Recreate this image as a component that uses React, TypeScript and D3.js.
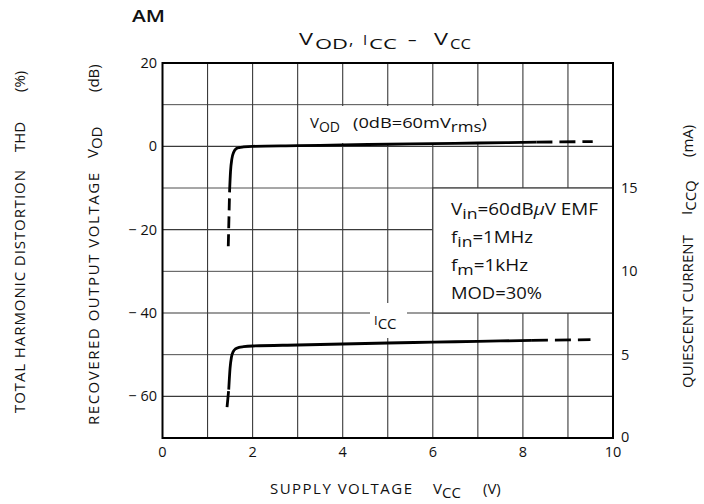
import React from 'react';
import * as d3 from 'd3';

// Axis ticks
const xTicks = [0, 2, 4, 6, 8, 10];
const yTicks = [20, 0, -20, -40, -60];
const yTickLabels = ['20', '0', '− 20', '− 40', '− 60'];
const yRightTicks = [0, 5, 10, 15];

// Recovered output voltage V_OD (dB) vs supply voltage (V)
const vodSolidX = [1.49, 1.51, 1.54, 1.58, 1.63, 1.7, 1.8, 2.0, 3.0, 4.0, 5.0, 6.0, 7.0, 8.3];
const vodSolidY = [-10.5, -6, -3, -1.4, -0.6, -0.3, -0.15, 0, 0.15, 0.35, 0.5, 0.65, 0.8, 1.0];
const vodLowX = [1.46, 1.49];
const vodLowY = [-24, -10.5];
const vodHighX = [8.3, 9.55];
const vodHighY = [1.0, 1.15];

// Quiescent current I_CC (mA) vs supply voltage (V)
const iccSolidX = [1.47, 1.5, 1.53, 1.57, 1.62, 1.7, 1.8, 2.0, 3.0, 4.0, 5.0, 6.0, 7.0, 8.2];
const iccSolidY = [2.9, 4.2, 4.85, 5.18, 5.35, 5.44, 5.48, 5.52, 5.58, 5.64, 5.7, 5.75, 5.8, 5.86];
const iccLowX = [1.42, 1.47];
const iccLowY = [1.5, 2.9];
const iccHighX = [8.2, 9.5];
const iccHighY = [5.86, 5.9];

const FONT = '"Open Sans", "Noto Sans", sans-serif';
const INK = '#111';
const GRID = '#3a3a3a';

const zip = (xs: number[], ys: number[]) => xs.map((v, i) => [v, ys[i]] as [number, number]);

export default function App() {
  const left = 162.5, right = 613, top = 63, bottom = 438;
  const x = d3.scaleLinear().domain([0, 10]).range([left, right]);
  const y = d3.scaleLinear().domain([-70, 20]).range([bottom, top]);
  const yR = d3.scaleLinear().domain([0, 22.5]).range([bottom, top]);

  const lineDb = d3.line<[number, number]>().x(d => x(d[0])).y(d => y(d[1])).curve(d3.curveMonotoneX);
  const lineMa = d3.line<[number, number]>().x(d => x(d[0])).y(d => yR(d[1])).curve(d3.curveMonotoneX);

  const vGrid = d3.range(1, 10);
  const hGrid = d3.range(-60, 20, 10);

  const curve = { fill: 'none', stroke: '#000', strokeWidth: 2.8, strokeLinecap: 'butt' as const };
  const fit = 'spacingAndGlyphs';

  return (
    <svg width={704} height={504} style={{ position: 'absolute', left: 0, top: 0, background: '#fff' }} fontFamily={FONT}>
      <rect width={704} height={504} fill="#fff" />

      {/* grid */}
      {vGrid.map(v => (
        <line key={'v' + v} x1={x(v)} x2={x(v)} y1={top} y2={bottom} stroke={GRID} strokeWidth={1.1} />
      ))}
      {hGrid.map(v => (
        <line key={'h' + v} x1={left} x2={right} y1={y(v)} y2={y(v)} stroke={GRID} strokeWidth={v % 20 === 0 ? 1.2 : 0.9} />
      ))}

      {/* condition box */}
      <rect x={x(6)} y={y(-10)} width={x(10) - x(6)} height={y(-40) - y(-10)} fill="#fff" stroke={GRID} strokeWidth={1.2} />
      <g fill={INK} fontSize={15.5}>
        <text x={451} y={215} textLength={147} lengthAdjust={fit}>V<tspan dy={4} fontSize={14.5}>in</tspan><tspan dy={-4}>=60dB</tspan><tspan fontStyle="italic">μ</tspan>V  EMF</text>
        <text x={451} y={243} textLength={82} lengthAdjust={fit}>f<tspan dy={4} fontSize={14.5}>in</tspan><tspan dy={-4}>=1MHz</tspan></text>
        <text x={451} y={271} textLength={77} lengthAdjust={fit}>f<tspan dy={4} fontSize={14.5}>m</tspan><tspan dy={-4}>=1kHz</tspan></text>
        <text x={451} y={299} textLength={91} lengthAdjust={fit}>MOD=30%</text>
      </g>

      {/* curve labels */}
      <rect x={300} y={106} width={217} height={37} fill="#fff" />
      <g fill={INK} fontSize={15}>
        <text x={310} y={128}>V<tspan dy={4} fontSize={14}>OD</tspan></text>
        <text x={353} y={128} textLength={134} lengthAdjust={fit}>(0dB=60mV<tspan dy={4} fontSize={14}>rms</tspan><tspan dy={-4}>)</tspan></text>
      </g>
      <rect x={370} y={303} width={37} height={35} fill="#fff" />
      <text x={374} y={325} fontSize={13} fill={INK}>I<tspan dy={4} fontSize={15}>CC</tspan></text>

      {/* frame */}
      <rect x={left} y={top} width={right - left} height={bottom - top} fill="none" stroke="#000" strokeWidth={2} />

      {/* curves */}
      <path d={lineDb(zip(vodSolidX, vodSolidY)) || ''} {...curve} />
      <path d={lineDb(zip(vodLowX, vodLowY)) || ''} {...curve} strokeDasharray="12 6" />
      <path d={lineDb(zip(vodHighX, vodHighY)) || ''} {...curve} strokeDasharray="16 7" />
      <path d={lineMa(zip(iccSolidX, iccSolidY)) || ''} {...curve} />
      <path d={lineMa(zip(iccLowX, iccLowY)) || ''} {...curve} strokeDasharray="0 6 16 20" />
      <path d={lineMa(zip(iccHighX, iccHighY)) || ''} {...curve} strokeDasharray="16 7" />

      {/* tick labels */}
      <g fill={INK} fontSize={14.5}>
        {yTicks.map((v, i) => (
          <text key={'yl' + v} x={157} y={y(v) + 5} textAnchor="end">{yTickLabels[i]}</text>
        ))}
        {yRightTicks.map(v => (
          <text key={'yr' + v} x={621} y={yR(v) + (v === 0 ? 4 : 5)}>{v}</text>
        ))}
        {xTicks.map(v => (
          <text key={'xl' + v} x={x(v)} y={457} textAnchor="middle">{v}</text>
        ))}
      </g>

      {/* titles */}
      <text x={132} y={22} fontSize={16} fill={INK} fontWeight={600} textLength={33} lengthAdjust={fit}>AM</text>
      <g fill={INK}>
        <text x={299} y={45} fontSize={16} textLength={14} lengthAdjust={fit}>V</text>
        <text x={315} y={49} fontSize={15} textLength={33} lengthAdjust={fit}>OD</text>
        <text x={349} y={45} fontSize={17}>,</text>
        <text x={363} y={45} fontSize={15}>I</text>
        <text x={369} y={49} fontSize={15} textLength={28} lengthAdjust={fit}>CC</text>
        <text x={408} y={45} fontSize={17}>–</text>
        <text x={434} y={45} fontSize={16} textLength={14} lengthAdjust={fit}>V</text>
        <text x={450} y={49} fontSize={15} textLength={21} lengthAdjust={fit}>CC</text>
      </g>

      {/* x axis title */}
      <g fill={INK} fontSize={15}>
        <text x={270} y={494} textLength={142} lengthAdjust="spacing">SUPPLY VOLTAGE</text>
        <text x={433} y={494}>V<tspan dy={4}>CC</tspan></text>
        <text x={483} y={494}>(V)</text>
      </g>

      {/* left axis titles */}
      <g fill={INK} fontSize={15}>
        <text transform="translate(25,413) rotate(-90)" textLength={243} lengthAdjust="spacing">TOTAL HARMONIC DISTORTION</text>
        <text transform="translate(25,152) rotate(-90)">THD</text>
        <text transform="translate(25,92) rotate(-90)">(%)</text>

        <text transform="translate(99,425) rotate(-90)" textLength={252} lengthAdjust="spacing">RECOVERED OUTPUT VOLTAGE</text>
        <text transform="translate(98,158) rotate(-90)">V<tspan dy={4}>OD</tspan></text>
        <text transform="translate(99,92) rotate(-90)">(dB)</text>
      </g>

      {/* right axis title */}
      <g fill={INK} fontSize={15}>
        <text transform="translate(693,388) rotate(-90)" textLength={153} lengthAdjust="spacing">QUIESCENT CURRENT</text>
        <text transform="translate(692,215) rotate(-90)">I<tspan dy={4}>CCQ</tspan></text>
        <text transform="translate(693,157) rotate(-90)">(mA)</text>
      </g>
    </svg>
  );
}
